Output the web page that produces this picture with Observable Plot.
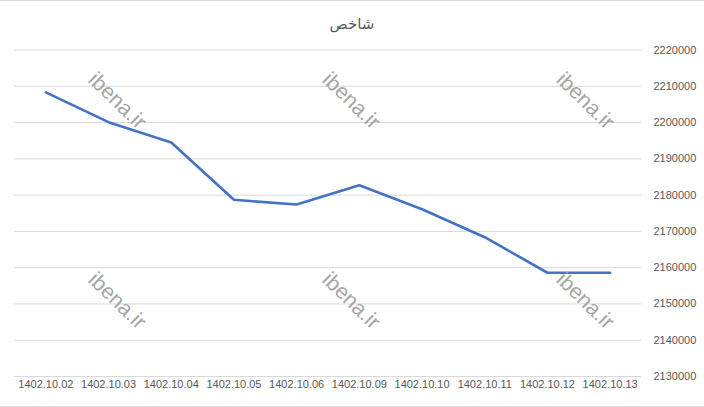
<!DOCTYPE html>
<html>
<head>
<meta charset="utf-8">
<script src="https://cdn.jsdelivr.net/npm/d3@7"></script>
<script src="https://cdn.jsdelivr.net/npm/@observablehq/plot@0.6"></script>
<style>
  html, body { margin: 0; padding: 0; background: #fff; }
  #chart { position: relative; width: 704px; height: 407px; overflow: hidden; background: #fff;
           border-top: 1px solid #d9d9d9; border-bottom: 1px solid #d9d9d9; box-sizing: border-box; }
  #title { position: absolute; top: 14px; left: 0; width: 704px; text-align: center;
           font-family: "DejaVu Sans", "Liberation Sans", sans-serif; font-size: 15px; color: #595959; direction: rtl; }
  #plot { position: absolute; top: 35px; left: 0; }
  .wm { position: absolute; font-family: "Liberation Sans", Arial, sans-serif; font-size: 21.5px; color: #a6a6a6;
        transform: translate(-50%, -50%) rotate(44deg); white-space: nowrap; pointer-events: none; }
</style>
</head>
<body>
<div id="chart">
  <div id="title">شاخص</div>
  <div id="plot"></div>
</div>
<script>
const dates = ["1402.10.02","1402.10.03","1402.10.04","1402.10.05","1402.10.06","1402.10.09","1402.10.10","1402.10.11","1402.10.12","1402.10.13"];
const values = [2208300, 2200100, 2194500, 2178700, 2177400, 2182700, 2176100, 2168400, 2158600, 2158600];
const yTicks = [2130000,2140000,2150000,2160000,2170000,2180000,2190000,2200000,2210000,2220000];
const watermarkText = "ibena.ir";

const data = dates.map((d, i) => ({date: d, value: values[i]}));

const chart = Plot.plot({
  width: 704,
  height: 372,
  marginTop: 13.5,
  marginBottom: 32,
  marginLeft: 14,
  marginRight: 63,
  style: {fontFamily: "'Liberation Sans', Arial, sans-serif", fontSize: "11px", color: "#595959", background: "transparent"},
  x: {type: "point", domain: dates, padding: 0.5, round: false, label: null},
  y: {domain: [2130000, 2220000], label: null},
  marks: [
    Plot.gridY(yTicks, {stroke: "#d9d9d9", strokeOpacity: 1, strokeWidth: 1}),
    Plot.axisY(yTicks, {anchor: "right", tickSize: 0, tickPadding: 12, textAnchor: "start", tickFormat: d3.format("d"), fill: "#595959", label: null}),
    Plot.axisX({tickSize: 0, tickPadding: 4, fill: "#595959", label: null}),
    Plot.line(data, {x: "date", y: "value", stroke: "#4472C4", strokeWidth: 2.6, strokeLinejoin: "round", strokeLinecap: "round"})
  ]
});
document.getElementById("plot").appendChild(chart);

const wmPos = [[117,100],[351,100],[585,100],[117,300],[351,300],[585,300]];
const host = document.getElementById("chart");
for (const [x, y] of wmPos) {
  const el = document.createElement("div");
  el.className = "wm";
  el.textContent = watermarkText;
  el.style.left = x + "px";
  el.style.top = y + "px";
  host.appendChild(el);
}
</script>
</body>
</html>
